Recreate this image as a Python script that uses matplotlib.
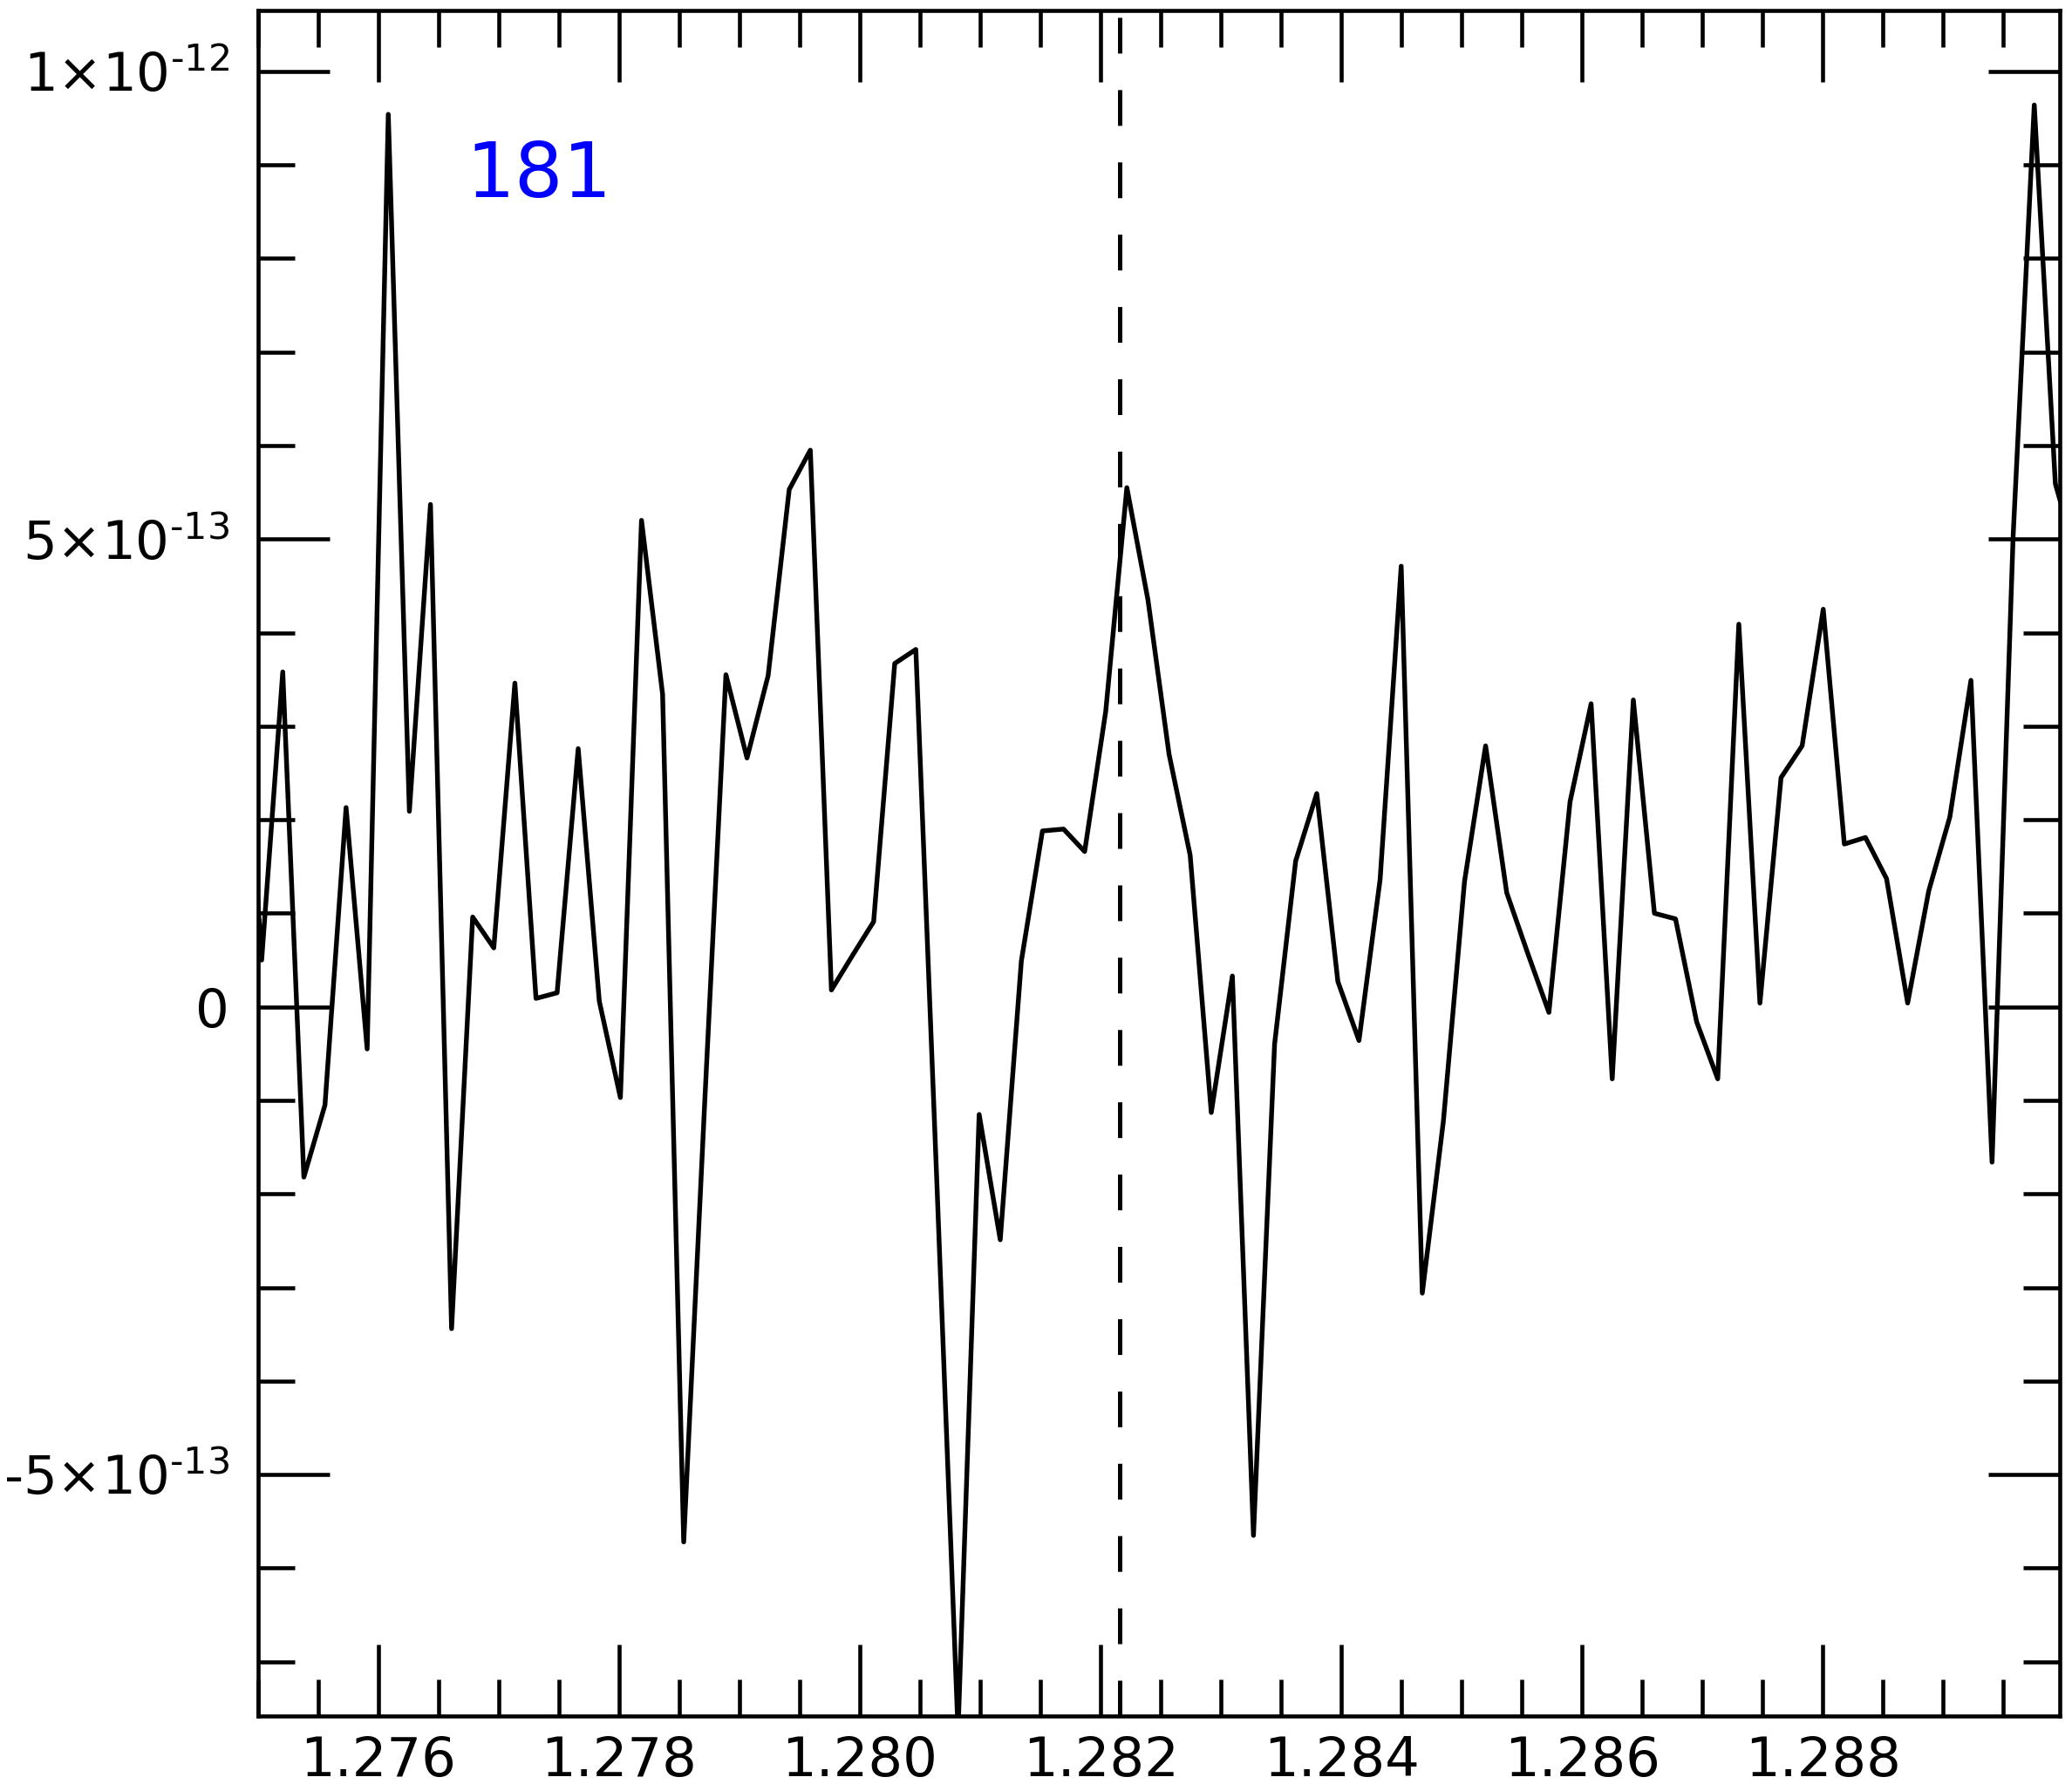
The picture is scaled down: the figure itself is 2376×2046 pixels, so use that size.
import numpy as np
import matplotlib
matplotlib.use("Agg")
import matplotlib.pyplot as plt
from matplotlib.ticker import MultipleLocator, FixedLocator, FixedFormatter

# flux samples, in units of 1e-13
# (first and last sample sit just outside the x range)
flux_e13 = [4.0,
            0.50, 3.58, -1.82, -1.05, 2.13, -0.45, 9.54, 2.09, 5.37, -3.44,
            0.96, 0.63, 3.46, 0.09, 0.15, 2.76, 0.06, -0.97, 5.20, 3.34,
            -5.72, -1.0, 3.55, 2.66, 3.54, 5.53, 5.95, 0.18, 0.55, 0.91,
            3.67, 3.82, -1.9, -7.75, -1.15, -2.49, 0.49, 1.88, 1.90, 1.66,
            3.16, 5.55, 4.35, 2.70, 1.62, -1.13, 0.33, -5.65, -0.40, 1.56,
            2.28, 0.27, -0.36, 1.36, 4.71, -3.06, -1.22, 1.34, 2.79, 1.22,
            0.57, -0.06, 2.19, 3.24, -0.77, 3.28, 1.00, 0.94, -0.16, -0.77,
            4.09, 0.04, 2.45, 2.79, 4.25, 1.74, 1.81, 1.37, 0.04, 1.24,
            2.03, 3.49, -1.66, 5.04, 9.64, 5.59, 4.8]

# wavelength grid (regular sampling)
wave_start = 1.274854
wave_step = 0.00017534

line_center = 1.28216
order_label = "181"

ytick_vals = [-5e-13, 0, 5e-13, 1e-12]
ytick_labels = [r"$\text{-}5{\times}10^{\text{-}13}$", "0",
                r"$5{\times}10^{\text{-}13}$", r"$1{\times}10^{\text{-}12}$"]

wave = wave_start + wave_step * np.arange(len(flux_e13))
flux = np.array(flux_e13) * 1e-13

plt.rcParams['lines.scale_dashes'] = False

fig = plt.figure(figsize=(23.76, 20.46), dpi=100)
ax = fig.add_axes([296 / 2376, 1 - 1968 / 2046, (2362 - 296) / 2376, (1968 - 12) / 2046])

ax.plot(wave, flux, color='k', linewidth=3.9)
ax.axvline(line_center, color='k', linewidth=3.6, dashes=(29.5, 30.2))

ax.text(1.27673, 8.66e-13, order_label, color='blue', fontsize=63,
        ha='left', va='baseline')

# right edge stops just short of 1.290 so that tick is not drawn
ax.set_xlim(1.275, 1.28997)
ax.set_ylim(-7.58e-13, 10.65e-13)

ax.xaxis.set_major_locator(MultipleLocator(0.002))
ax.xaxis.set_minor_locator(MultipleLocator(0.0005))
ax.xaxis.set_major_formatter(plt.FuncFormatter(lambda v, p: "%.3f" % v))
ax.yaxis.set_major_locator(FixedLocator(ytick_vals))
ax.yaxis.set_major_formatter(FixedFormatter(ytick_labels))
ax.yaxis.set_minor_locator(MultipleLocator(1e-13))

ax.tick_params(which='both', direction='in', top=True, right=True, width=3.3)
ax.tick_params(which='major', length=59)
ax.tick_params(which='minor', length=30)
ax.tick_params(axis='x', which='major', labelsize=45, pad=16)
ax.tick_params(axis='y', which='major', labelsize=44, pad=24)

for sp in ax.spines.values():
    sp.set_linewidth(3.3)

fig.savefig("out.png", dpi=100)
